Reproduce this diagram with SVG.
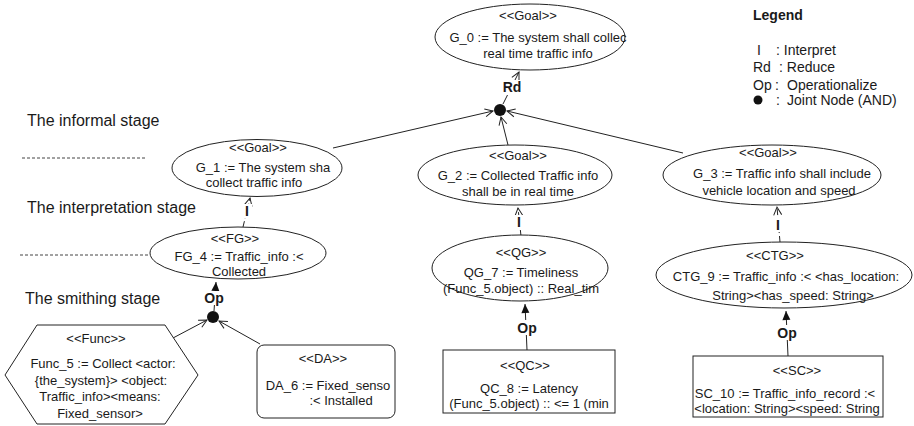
<svg xmlns="http://www.w3.org/2000/svg" width="914" height="426" viewBox="0 0 914 426">
<defs>
<marker id="open" markerUnits="userSpaceOnUse" markerWidth="12" markerHeight="12" refX="8" refY="4" orient="auto" overflow="visible">
<path d="M0,0 L8,4 L0,8" fill="none" stroke="#222" stroke-width="1"/>
</marker>
<marker id="fill" markerUnits="userSpaceOnUse" markerWidth="12" markerHeight="12" refX="9" refY="4" orient="auto" overflow="visible">
<path d="M0,0 L9,4 L0,8 Z" fill="#111" stroke="none"/>
</marker>
<style>
.n{fill:#fff;stroke:#222;stroke-width:1}
.t{font-family:"Liberation Sans",Arial,sans-serif;font-size:13px;fill:#1a1a1a;text-anchor:middle}
.s{font-family:"Liberation Sans",Arial,sans-serif;font-size:16px;fill:#1a1a1a}
.lg{font-family:"Liberation Sans",Arial,sans-serif;font-size:14px;fill:#1a1a1a}
.lb{font-family:"Liberation Sans",Arial,sans-serif;font-size:14px;font-weight:bold;fill:#1a1a1a;text-anchor:middle}
.c{fill:none;stroke:#222;stroke-width:1}
.d{fill:none;stroke:#222;stroke-width:1;stroke-dasharray:6 3}
.dash{stroke:#444;stroke-width:1;stroke-dasharray:3 2}
.bg{fill:#fff}
</style>
</defs>

<g id="stages">
<text class="s" x="27" y="126">The informal stage</text>
<line class="dash" x1="22" y1="158" x2="147" y2="158"/>
<text class="s" x="27" y="213">The interpretation stage</text>
<line class="dash" x1="20" y1="255" x2="150" y2="255"/>
<text class="s" x="25" y="304">The smithing stage</text>
</g>

<g id="legend">
<text class="lg" x="753" y="20" font-weight="bold">Legend</text>
<text class="lg" x="757" y="55">I</text><text class="lg" x="776" y="55">: Interpret</text>
<text class="lg" x="753" y="72">Rd</text><text class="lg" x="779" y="72">: Reduce</text>
<text class="lg" x="753" y="90">Op</text><text class="lg" x="775" y="90">:</text><text class="lg" x="787" y="90">Operationalize</text>
<circle cx="758" cy="100" r="4.5" fill="#111"/><text class="lg" x="776" y="105">:</text><text class="lg" x="787" y="105">Joint Node (AND)</text>
</g>

<g id="connectors">
<line class="c" x1="503" y1="104" x2="519" y2="72" marker-end="url(#open)"/>
<rect class="bg" x="503" y="80" width="19" height="15"/>
<text class="lb" x="512" y="92">Rd</text>
<line class="c" x1="333" y1="148" x2="493" y2="111" marker-end="url(#open)"/>
<line class="c" x1="508" y1="145" x2="501" y2="117" marker-end="url(#open)"/>
<line class="c" x1="683" y1="153" x2="507" y2="111" marker-end="url(#open)"/>

<line class="d" x1="243" y1="227" x2="250" y2="198" marker-end="url(#open)"/>
<rect class="bg" x="242" y="204" width="10" height="14"/>
<text class="lb" x="247" y="216">I</text>
<line class="d" x1="521" y1="236" x2="518" y2="208" marker-end="url(#open)"/>
<rect class="bg" x="514" y="215" width="10" height="14"/>
<text class="lb" x="519" y="227">I</text>
<line class="d" x1="780" y1="242" x2="777" y2="207" marker-end="url(#open)"/>
<rect class="bg" x="773" y="218" width="10" height="14"/>
<text class="lb" x="778" y="230">I</text>

<line class="c" x1="214" y1="311" x2="216" y2="282" marker-end="url(#fill)"/>
<rect class="bg" x="203" y="291" width="22" height="14"/>
<text class="lb" x="214" y="303">Op</text>
<line class="c" x1="173" y1="338" x2="207" y2="320" marker-end="url(#open)"/>
<line class="c" x1="260" y1="344" x2="219" y2="321" marker-end="url(#open)"/>

<line class="c" x1="527" y1="350" x2="525" y2="304" marker-end="url(#fill)"/>
<rect class="bg" x="515" y="320" width="24" height="15"/>
<text class="lb" x="527" y="333">Op</text>
<line class="c" x1="788" y1="356" x2="786" y2="311" marker-end="url(#fill)"/>
<rect class="bg" x="775" y="325" width="24" height="15"/>
<text class="lb" x="787" y="338">Op</text>
</g>

<g id="j_rd"><circle cx="500" cy="110" r="6" fill="#111"/></g>
<g id="j_op"><circle cx="213" cy="317" r="6" fill="#111"/></g>

<g id="G_0">
<ellipse class="n" cx="530" cy="37" rx="95" ry="33"/>
<text class="t" x="528" y="20">&lt;&lt;Goal&gt;&gt;</text>
<text class="t" x="538" y="42">G_0 := The system shall collec</text>
<text class="t" x="538" y="58">real time traffic info</text>
</g>

<g id="G_1">
<ellipse class="n" cx="257" cy="168" rx="85" ry="28.5"/>
<text class="t" x="258" y="152">&lt;&lt;Goal&gt;&gt;</text>
<text class="t" x="263" y="172">G_1 := The system sha</text>
<text class="t" x="254" y="187">collect traffic info</text>
</g>

<g id="G_2">
<ellipse class="n" cx="515" cy="175" rx="97" ry="30"/>
<text class="t" x="518" y="160">&lt;&lt;Goal&gt;&gt;</text>
<text class="t" x="518" y="180">G_2 := Collected Traffic info</text>
<text class="t" x="518" y="196">shall be in real time</text>
</g>

<g id="G_3">
<ellipse class="n" cx="772" cy="175" rx="109" ry="30"/>
<text class="t" x="768" y="157">&lt;&lt;Goal&gt;&gt;</text>
<text class="t" x="782" y="178">G_3 := Traffic info shall include</text>
<text class="t" x="779" y="195">vehicle location and speed</text>
</g>

<g id="FG_4">
<ellipse class="n" cx="238" cy="253" rx="88" ry="26"/>
<text class="t" x="235" y="243">&lt;&lt;FG&gt;&gt;</text>
<text class="t" x="239" y="261">FG_4 := Traffic_info :&lt;</text>
<text class="t" x="239" y="276">Collected</text>
</g>

<g id="Func_5">
<polygon class="n" points="5,375 37,325 165,325 198,375 165,424 37,424"/>
<text class="t" x="96" y="343">&lt;&lt;Func&gt;&gt;</text>
<text class="t" x="103" y="368">Func_5 := Collect &lt;actor:</text>
<text class="t" x="101" y="385">{the_system}&gt; &lt;object:</text>
<text class="t" x="100" y="401">Traffic_info&gt;&lt;means:</text>
<text class="t" x="100" y="418">Fixed_sensor&gt;</text>
</g>

<g id="DA_6">
<rect class="n" x="257" y="345" width="138" height="73" rx="7"/>
<text class="t" x="323" y="363">&lt;&lt;DA&gt;&gt;</text>
<text class="t" x="328" y="390">DA_6 := Fixed_senso</text>
<text class="t" x="341" y="405">:&lt; Installed</text>
</g>

<g id="QG_7">
<ellipse class="n" cx="520" cy="268" rx="88" ry="33"/>
<text class="t" x="521" y="257">&lt;&lt;QG&gt;&gt;</text>
<text class="t" x="521" y="277">QG_7 := Timeliness</text>
<text class="t" x="521" y="293">(Func_5.object) :: Real_tim</text>
</g>

<g id="QC_8">
<rect class="n" x="443" y="350" width="172" height="63"/>
<text class="t" x="525" y="370">&lt;&lt;QC&gt;&gt;</text>
<text class="t" x="529" y="393">QC_8 := Latency</text>
<text class="t" x="529" y="408">(Func_5.object) :: &lt;= 1 (min</text>
</g>

<g id="CTG_9">
<ellipse class="n" cx="784" cy="275" rx="128" ry="33"/>
<text class="t" x="775" y="260">&lt;&lt;CTG&gt;&gt;</text>
<text class="t" x="786" y="281">CTG_9 := Traffic_info :&lt; &lt;has_location:</text>
<text class="t" x="793" y="300">String&gt;&lt;has_speed: String&gt;</text>
</g>

<g id="SC_10">
<rect class="n" x="693" y="356" width="190" height="61"/>
<text class="t" x="797" y="375">&lt;&lt;SC&gt;&gt;</text>
<text class="t" x="785" y="398">SC_10 := Traffic_info_record :&lt;</text>
<text class="t" x="787" y="413">&lt;location: String&gt;&lt;speed: String</text>
</g>
</svg>
